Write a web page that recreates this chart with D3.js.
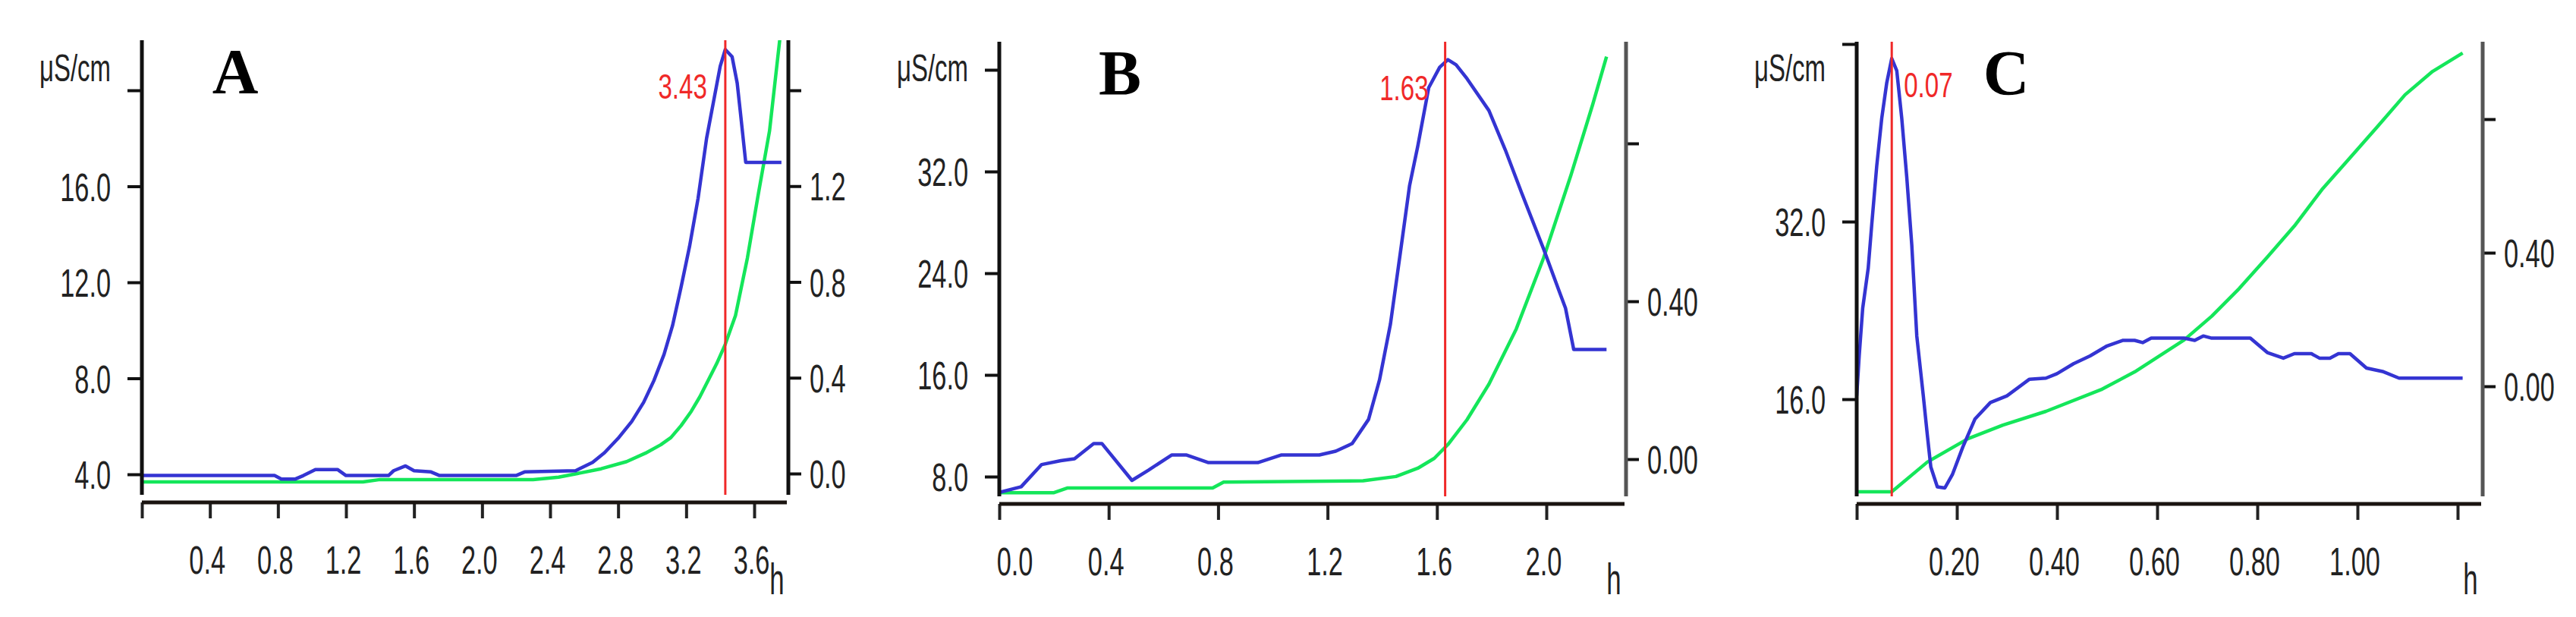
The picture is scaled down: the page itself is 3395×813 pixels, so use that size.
<!DOCTYPE html>
<html><head><meta charset="utf-8">
<script src="https://cdn.jsdelivr.net/npm/d3@7"></script>
<style>body{margin:0;background:#fff;}svg{display:block;}</style>
</head><body>
<svg id="c" width="3395" height="813"></svg>
<script>
// ---------- DATA ----------
// Panel A
const aBlueH = [0,0.78,0.82,0.9,0.95,1.02,1.15,1.2,1.45,1.48,1.55,1.6,1.7,1.75,2.2,2.25,2.55,2.65,2.72,2.8,2.88,2.95,3.01,3.07,3.12,3.17,3.22,3.27,3.32,3.36,3.40,3.43,3.47,3.50,3.52,3.55,3.76];
const aBlueV = [3.95,3.95,3.8,3.8,3.95,4.2,4.2,3.95,3.95,4.15,4.35,4.15,4.1,3.95,3.95,4.1,4.15,4.5,4.9,5.5,6.2,7.0,7.9,9.0,10.2,11.8,13.5,15.5,18.0,19.5,21.0,21.7,21.4,20.3,19.0,17.0,17.0];
const aGreenH = [0,1.3,1.4,2.3,2.45,2.56,2.7,2.85,2.96,3.05,3.11,3.17,3.23,3.28,3.33,3.38,3.43,3.49,3.56,3.62,3.69,3.75,3.77];
const aGreenV = [-0.035,-0.035,-0.025,-0.025,-0.015,0.0,0.02,0.05,0.085,0.12,0.15,0.2,0.26,0.32,0.39,0.46,0.54,0.66,0.9,1.15,1.43,1.81,1.9];
const aPeak = 3.43;
const aXTicks = [0,0.4,0.8,1.2,1.6,2.0,2.4,2.8,3.2,3.6];
const aXLabels = ["","0.4","0.8","1.2","1.6","2.0","2.4","2.8","3.2","3.6"];
const aLTicks = [4,8,12,16,20];
const aLLabels = ["4.0","8.0","12.0","16.0",""];
const aRTicks = [0,0.4,0.8,1.2,1.6];
const aRLabels = ["0.0","0.4","0.8","1.2",""];

// Panel B
const bBlueH = [0,0.08,0.155,0.225,0.275,0.345,0.375,0.485,0.545,0.63,0.685,0.765,0.945,1.03,1.17,1.23,1.29,1.35,1.39,1.43,1.47,1.50,1.53,1.57,1.61,1.64,1.67,1.71,1.79,1.85,1.91,1.99,2.05,2.07,2.10,2.22];
const bBlueV = [6.75,7.2,8.95,9.25,9.4,10.6,10.6,7.7,8.5,9.7,9.7,9.1,9.1,9.7,9.7,10.0,10.6,12.5,15.6,20.0,26.2,30.9,34.0,38.6,40.2,40.8,40.4,39.3,36.8,33.7,30.3,25.9,22.4,21.25,18.0,18.0];
const bGreenH = [0,0.2,0.25,0.78,0.82,1.33,1.45,1.53,1.59,1.64,1.71,1.79,1.89,1.99,2.09,2.17,2.22];
const bGreenV = [-0.085,-0.085,-0.073,-0.073,-0.058,-0.055,-0.044,-0.023,0.002,0.037,0.10,0.19,0.33,0.51,0.72,0.90,1.02];
const bPeak = 1.63;
const bXTicks = [0,0.4,0.8,1.2,1.6,2.0];
const bXLabels = ["0.0","0.4","0.8","1.2","1.6","2.0"];
const bLTicks = [8,16,24,32,40];
const bLLabels = ["8.0","16.0","24.0","32.0",""];
const bRTicks = [0,0.4,0.8];
const bRLabels = ["0.00","0.40",""];

// Panel C
const cBlueH = [0,0.005,0.012,0.023,0.03,0.04,0.05,0.06,0.07,0.08,0.09,0.10,0.11,0.12,0.133,0.141,0.148,0.161,0.176,0.191,0.212,0.236,0.267,0.30,0.345,0.378,0.40,0.433,0.466,0.50,0.532,0.555,0.571,0.588,0.654,0.675,0.692,0.709,0.786,0.82,0.852,0.874,0.908,0.924,0.945,0.962,0.985,1.018,1.05,1.083,1.21];
const cBlueV = [16.3,19.9,24.2,27.8,31.7,37.0,41.3,44.5,46.7,45.6,41.3,36.0,29.9,21.7,16.3,12.8,9.9,8.1,8.0,9.2,11.7,14.2,15.7,16.3,17.8,17.9,18.3,19.2,19.9,20.8,21.3,21.3,21.1,21.5,21.5,21.3,21.7,21.5,21.5,20.2,19.7,20.1,20.1,19.7,19.7,20.1,20.1,18.8,18.5,17.9,17.9];
const cGreenH = [0,0.07,0.141,0.222,0.292,0.378,0.488,0.555,0.654,0.709,0.764,0.82,0.874,0.929,0.985,1.04,1.095,1.15,1.21];
const cGreenV = [-0.316,-0.316,-0.227,-0.157,-0.116,-0.075,-0.01,0.043,0.139,0.21,0.293,0.387,0.48,0.589,0.684,0.778,0.873,0.943,0.998];
const cPeak = 0.07;
const cXTicks = [0,0.2,0.4,0.6,0.8,1.0,1.2];
const cXLabels = ["","0.20","0.40","0.60","0.80","1.00",""];
const cLTicks = [16,32,48];
const cLLabels = ["16.0","32.0",""];
const cRTicks = [0,0.4,0.8];
const cRLabels = ["0.00","0.40",""];

const panelNames = ["A","B","C"];
const peakLabels = ["3.43","1.63","0.07"];
const unitLabel = "μS/cm";
const xUnit = "h";

// ---------- LAYOUT (positions only) ----------
const layout = [
  {x0:187, xr:1039, top:53, bottom:652, xAxisY:662, xDom:[0,3.6], xRng:[187,994],
   lDom:[4,20], lRng:[625,119], rDom:[0,1.6], rRng:[624,119],
   letterX:310, letterY:123, peakDx:-24, peakAnchor:"end", peakY:130, hX:1024, rightAxisColor:"#111", firstLabelDx:0},
  {x0:1317, xr:2143, top:55, bottom:654, xAxisY:664, xDom:[0,2.0], xRng:[1317,2038],
   lDom:[8,40], lRng:[628,92], rDom:[0,0.8], rRng:[605,189],
   letterX:1476, letterY:125, peakDx:-22, peakAnchor:"end", peakY:132, hX:2127, rightAxisColor:"#555", firstLabelDx:20},
  {x0:2447, xr:3272, top:55, bottom:654, xAxisY:664, xDom:[0,1.2], xRng:[2447,3239],
   lDom:[16,48], lRng:[526,58], rDom:[0,0.8], rRng:[509,157],
   letterX:2644, letterY:125, peakDx:16, peakAnchor:"start", peakY:128, hX:3256, rightAxisColor:"#555", firstLabelDx:0}
];

const data = [
  {blueH:aBlueH, blueV:aBlueV, greenH:aGreenH, greenV:aGreenV, peak:aPeak, xt:aXTicks, xl:aXLabels, lt:aLTicks, ll:aLLabels, rt:aRTicks, rl:aRLabels},
  {blueH:bBlueH, blueV:bBlueV, greenH:bGreenH, greenV:bGreenV, peak:bPeak, xt:bXTicks, xl:bXLabels, lt:bLTicks, ll:bLLabels, rt:bRTicks, rl:bRLabels},
  {blueH:cBlueH, blueV:cBlueV, greenH:cGreenH, greenV:cGreenV, peak:cPeak, xt:cXTicks, xl:cXLabels, lt:cLTicks, ll:cLLabels, rt:cRTicks, rl:cRLabels}
];

const svg = d3.select("#c");
const FONT = "'Liberation Sans', Arial, sans-serif";
const BLUE = "#3434d2", GREEN = "#14e65a", RED = "#f02828";

// horizontal condensing by a real transform (keeps anchor point in place)
function condense(sel, k){
  sel.each(function(){
    const t = d3.select(this);
    const x = parseFloat(t.attr("x")) || 0;
    const dx = parseFloat(t.attr("dx")) || 0;
    t.attr("x", x / k).attr("dx", dx / k).attr("transform", `scale(${k},1)`);
  });
}

layout.forEach((L, i) => {
  const D = data[i];
  const x = d3.scaleLinear().domain(L.xDom).range(L.xRng);
  const yL = d3.scaleLinear().domain(L.lDom).range(L.lRng);
  const yR = d3.scaleLinear().domain(L.rDom).range(L.rRng);
  const g = svg.append("g");

  const clipId = "clip"+i;
  svg.append("clipPath").attr("id", clipId).append("rect")
    .attr("x", L.x0).attr("y", L.top).attr("width", L.xr - L.x0).attr("height", L.bottom - L.top + 4);

  const plot = g.append("g").attr("clip-path", `url(#${clipId})`);

  // green (right axis)
  const greenPts = D.greenH.map((h,j)=>[h, D.greenV[j]]);
  plot.append("path").datum(greenPts)
    .attr("fill","none").attr("stroke",GREEN).attr("stroke-width",4.5).attr("stroke-linejoin","round")
    .attr("d", d3.line().x(d=>x(d[0])).y(d=>yR(d[1])));

  // blue (left axis)
  const bluePts = D.blueH.map((h,j)=>[h, D.blueV[j]]);
  plot.append("path").datum(bluePts)
    .attr("fill","none").attr("stroke",BLUE).attr("stroke-width",4.5).attr("stroke-linejoin","round")
    .attr("d", d3.line().x(d=>x(d[0])).y(d=>yL(d[1])));

  // red marker
  g.append("line").attr("x1", x(D.peak)).attr("x2", x(D.peak))
    .attr("y1", L.top).attr("y2", L.bottom)
    .attr("stroke", RED).attr("stroke-width", 3);
  g.append("text").attr("class","cond72")
    .attr("x", x(D.peak) + L.peakDx).attr("y", L.peakY)
    .attr("text-anchor", L.peakAnchor).attr("font-family", FONT).attr("font-size", 46)
    .attr("fill", RED).text(peakLabels[i]);

  // left axis
  const gL = g.append("g").attr("transform", `translate(${L.x0},0)`)
    .call(d3.axisLeft(yL).tickValues(D.lt).tickFormat((d,j)=>D.ll[j]).tickSize(19).tickSizeOuter(0));
  gL.select(".domain").remove();
  gL.selectAll(".tick line").attr("stroke","#111").attr("stroke-width",4);
  gL.selectAll(".tick text").attr("x",-41).attr("dy","0.36em")
    .attr("font-family",FONT).attr("font-size",52).attr("fill","#222").attr("class","cond66");
  g.append("line").attr("x1",L.x0).attr("x2",L.x0).attr("y1",L.top).attr("y2",L.bottom)
    .attr("stroke","#111").attr("stroke-width",5);

  // right axis
  const gR = g.append("g").attr("transform", `translate(${L.xr},0)`)
    .call(d3.axisRight(yR).tickValues(D.rt).tickFormat((d,j)=>D.rl[j]).tickSize(17).tickSizeOuter(0));
  gR.select(".domain").remove();
  gR.selectAll(".tick line").attr("stroke","#111").attr("stroke-width",4);
  gR.selectAll(".tick text").attr("x",28).attr("dy","0.36em")
    .attr("font-family",FONT).attr("font-size",52).attr("fill","#222").attr("class","cond66");
  g.append("line").attr("x1",L.xr).attr("x2",L.xr).attr("y1",L.top).attr("y2",L.bottom)
    .attr("stroke",L.rightAxisColor).attr("stroke-width",5);

  // x axis
  const gX = g.append("g").attr("transform", `translate(0,${L.xAxisY})`)
    .call(d3.axisBottom(x).tickValues(D.xt).tickFormat((d,j)=>D.xl[j]).tickSize(21).tickSizeOuter(0));
  gX.select(".domain").remove();
  gX.selectAll(".tick line").attr("stroke","#222").attr("stroke-width",4);
  gX.selectAll(".tick text").attr("y",94).attr("dy",0)
    .attr("dx",(d,j)=> j===0 ? L.firstLabelDx : -4)
    .attr("font-family",FONT).attr("font-size",52).attr("fill","#222").attr("class","cond66");
  g.append("line").attr("x1",L.x0).attr("x2",L.xr - 2).attr("y1",L.xAxisY).attr("y2",L.xAxisY)
    .attr("stroke","#1a1410").attr("stroke-width",5);

  // unit labels
  g.append("text").attr("class","unit")
    .attr("x", L.x0 - 41).attr("y", 107).attr("text-anchor","end")
    .attr("font-family",FONT).attr("font-size",50).attr("fill","#222").text(unitLabel);
  g.append("text").attr("class","cond55")
    .attr("x", L.hX).attr("y", 783).attr("text-anchor","middle")
    .attr("font-family",FONT).attr("font-size",58).attr("fill","#222").text(xUnit);

  // panel letter
  g.append("text").attr("x", L.letterX).attr("y", L.letterY).attr("text-anchor","middle")
    .attr("font-family","'Liberation Serif','Times New Roman',serif").attr("font-weight","bold")
    .attr("font-size",84).attr("fill","#000").text(panelNames[i]);
});

condense(svg.selectAll(".cond66"), 0.66);
condense(svg.selectAll(".cond72"), 0.72);
condense(svg.selectAll(".cond55"), 0.6);
svg.selectAll(".unit").each(function(){
  const len = this.getComputedTextLength();
  condense(d3.select(this), 94 / len);
});
</script>
</body></html>
